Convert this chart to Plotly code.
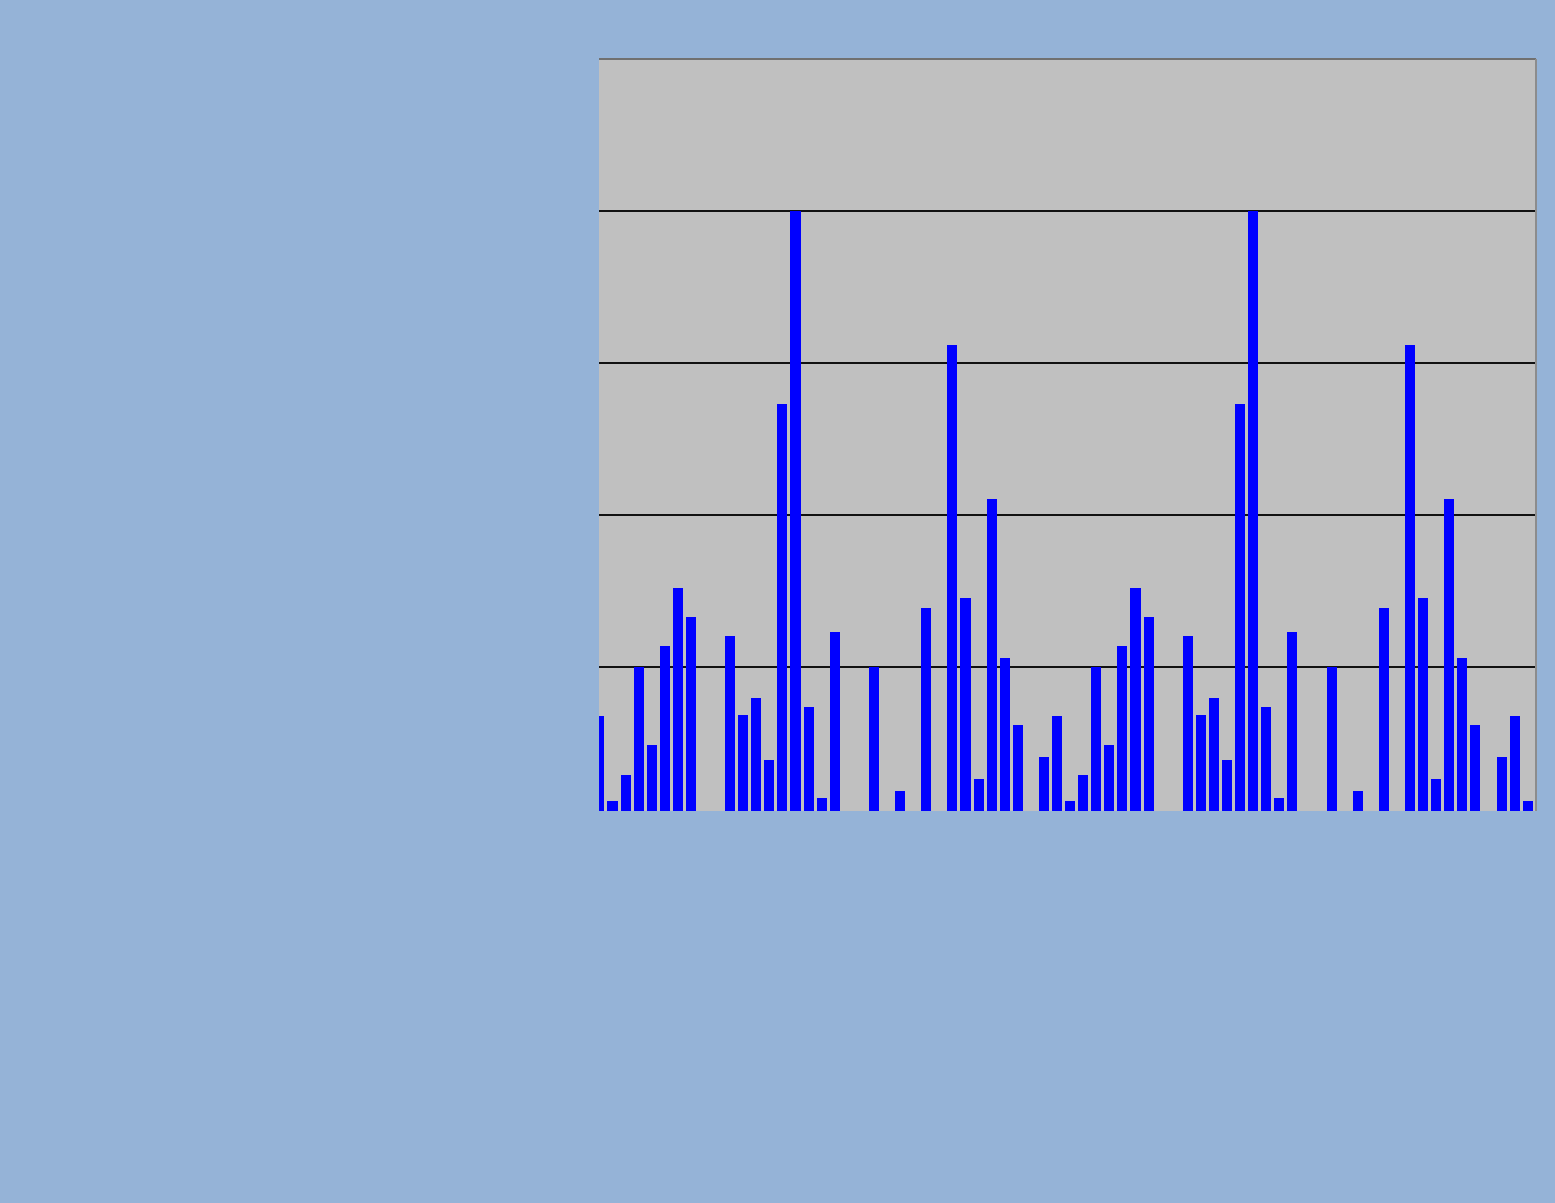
import plotly.graph_objects as go

# bar heights (grid step = 10, no labels shown)
values = [
    6.8, 1.2, 2.9, 10.0, 4.9, 11.4, 15.2, 13.3, 0, 0,
    12.1, 6.9, 8.0, 3.9, 27.3, 40.0, 7.4, 1.4, 12.3, 0,
    0, 10.0, 0, 1.9, 0, 13.9, 0, 31.2, 14.6, 2.7,
    21.1, 10.6, 6.2, 0, 4.1,
    6.8, 1.2, 2.9, 10.0, 4.9, 11.4, 15.2, 13.3, 0, 0,
    12.1, 6.9, 8.0, 3.9, 27.3, 40.0, 7.4, 1.4, 12.3, 0,
    0, 10.0, 0, 1.9, 0, 13.9, 0, 31.2, 14.6, 2.7,
    21.1, 10.6, 6.2, 0, 4.1,
    6.8, 1.2,
]
categories = list(range(len(values)))

fig = go.Figure()
fig.add_trace(go.Bar(x=categories, y=values, width=0.77,
                     marker=dict(color="#0000FF", line=dict(width=0))))

fig.update_layout(
    width=1555, height=1203,
    margin=dict(l=599, r=19, t=59, b=392),
    paper_bgcolor="#95B3D7",
    plot_bgcolor="#C0C0C0",
    showlegend=False,
    bargap=0,
)
fig.update_xaxes(range=[-0.03, 71.63], showticklabels=False, showgrid=False,
                 zeroline=False, ticks="")
fig.update_yaxes(range=[0.565, 50], dtick=10, showticklabels=False,
                 showgrid=True, gridcolor="#111111", gridwidth=1.7,
                 zeroline=False, ticks="")

# plot area border on top and right, like the original
fig.add_shape(type="line", xref="paper", yref="paper", x0=0, x1=1, y0=1, y1=1,
              line=dict(color="#707070", width=2))
fig.add_shape(type="line", xref="paper", yref="paper", x0=1, x1=1, y0=0, y1=1,
              line=dict(color="#8C8C8C", width=2))

fig.write_html("out.html", config={"displayModeBar": False},
               post_script="document.body.style.margin='0';")
